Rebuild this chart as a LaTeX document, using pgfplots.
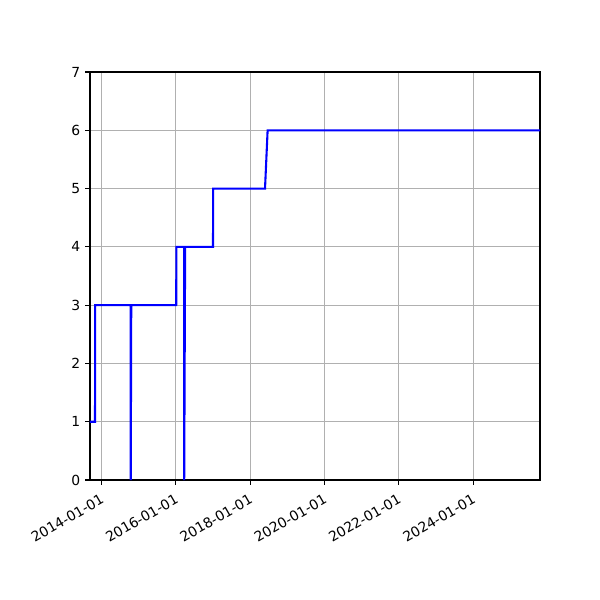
\documentclass[border=0pt]{standalone}
\usepackage{fontspec}
\setmainfont{DejaVu Sans}
\usepackage{pgfplots}
\pgfplotsset{compat=1.18}
\definecolor{gridgray}{HTML}{B0B0B0}
\begin{document}
\begin{tikzpicture}
\useasboundingbox (-64.8pt,-86.4pt) rectangle (367.2pt,345.6pt);
\begin{axis}[
  at={(0,0)}, anchor=south west,
  scale only axis,
  width=324pt, height=293.76pt,
  xmin=2013.69, xmax=2025.80,
  ymin=0, ymax=7,
  xtick={2014,2016,2018,2020,2022,2024},
  xticklabels={2014-01-01,2016-01-01,2018-01-01,2020-01-01,2022-01-01,2024-01-01},
  ytick={0,1,2,3,4,5,6,7},
  xticklabel style={rotate=30, anchor=north east, font=\fontsize{10}{12}\selectfont, inner sep=1pt, xshift=-3pt, yshift=-3.5pt},
  yticklabel style={font=\fontsize{10}{12}\selectfont},
  /pgf/number format/assume math mode=true,
  tick pos=left,
  tick align=outside,
  major tick length=3.5pt,
  every tick/.style={black, line width=0.8pt},
  axis line style={line width=0.8pt},
  grid=major,
  major grid style={gridgray, line width=0.8pt},
  axis on top=false,
]
\addplot[blue, line width=1.5pt, mark=none] coordinates {
(2013.69,1) (2013.825,1) (2013.83,3) (2014.786,3) (2014.786,0) (2014.80,3)
(2016.01,3) (2016.015,4) (2016.225,4) (2016.225,0) (2016.25,4)
(2017.0,4) (2017.005,5) (2018.40,5) (2018.47,6) (2025.80,6)
};
\end{axis}
\end{tikzpicture}
\end{document}
